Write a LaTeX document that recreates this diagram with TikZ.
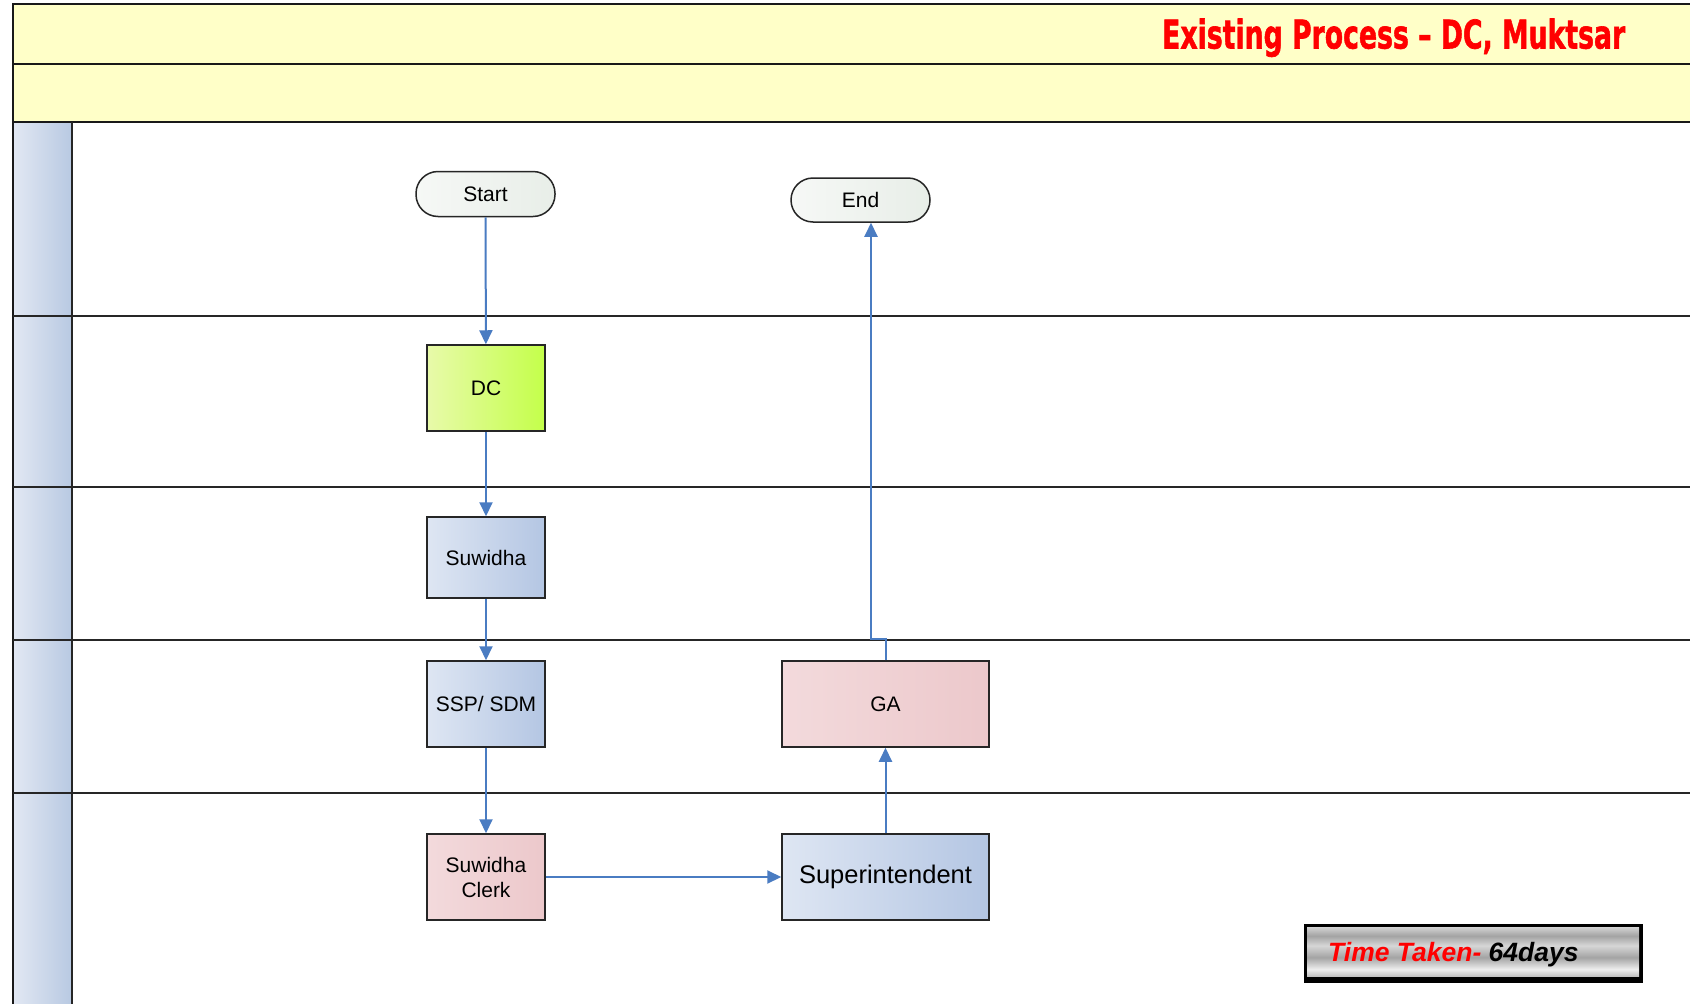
\documentclass[tikz,border=0pt]{standalone}
\usepackage{fontspec}
\setmainfont{Liberation Sans}
\newfontfamily\titlefont{DejaVu Sans}[BoldFeatures={FakeBold=1.6}]
\usetikzlibrary{arrows.meta}

\definecolor{bandyellow}{RGB}{255,255,200}
\definecolor{stripL}{RGB}{226,232,243}
\definecolor{stripR}{RGB}{184,201,226}
\definecolor{flowblue}{RGB}{74,124,194}
\definecolor{blueL}{RGB}{222,230,243}
\definecolor{blueR}{RGB}{180,198,227}
\definecolor{pinkL}{RGB}{243,218,220}
\definecolor{pinkR}{RGB}{236,200,203}
\definecolor{limeL}{RGB}{232,250,170}
\definecolor{limeR}{RGB}{196,255,74}
\definecolor{termL}{RGB}{246,248,246}
\definecolor{termR}{RGB}{232,238,232}
\definecolor{titlered}{RGB}{255,0,0}
\definecolor{mA}{gray}{0.64}
\definecolor{mB}{gray}{0.84}
\definecolor{mC}{gray}{0.93}

% brushed metal stripes for the time box
\pgfdeclareverticalshading{brushed}{100bp}{%
  color(0bp)=(mA); color(10bp)=(mB); color(20bp)=(mA); color(32bp)=(mC);
  color(44bp)=(mA); color(56bp)=(mB); color(66bp)=(mA); color(80bp)=(mC);
  color(90bp)=(mA); color(100bp)=(mB)}

\tikzset{
  frameline/.style={line width=2pt, black!90},
  laneline/.style={line width=1.6pt, black!85},
  proc/.style={draw=black!85, line width=1.5pt, shading angle=0,
    font=\fontsize{21}{25}\selectfont, align=center, inner sep=0pt},
  bluebox/.style={proc, left color=blueL, right color=blueR},
  pinkbox/.style={proc, left color=pinkL, right color=pinkR},
  limebox/.style={proc, left color=limeL, right color=limeR},
  terminal/.style={draw=black!85, line width=1.5pt, rounded corners=22pt,
    left color=termL, right color=termR, font=\fontsize{21}{25}\selectfont,
    inner sep=0pt},
  flow/.style={draw=flowblue, line width=2pt,
    -{Triangle[length=14pt,width=13pt]}},
}

\begin{document}
\begin{tikzpicture}[x=1pt, y=-1pt]
\useasboundingbox (0,0) rectangle (1690,1004);
\fill[white] (0,0) rectangle (1690,1004);

% header bands
\fill[bandyellow] (13,4) rectangle (1690,122);

% lane header strips
\shade[left color=stripL, right color=stripR] (13,122) rectangle (72,1004);

% frame and lane lines
\draw[frameline] (1690,4) -- (13,4) -- (13,1004);
\draw[frameline] (13,63.5) -- (1690,63.5);
\draw[frameline] (13,122) -- (1690,122);
\draw[laneline] (72,122) -- (72,1004);
\foreach \yy in {316,487,640,793}
  \draw[laneline] (13,\yy) -- (1690,\yy);

% title
\node[anchor=base west, inner sep=0pt, text=titlered] (title) at (1162,48.5)
  {\resizebox{463pt}{30pt}{\titlefont\bfseries Existing Process – DC, Muktsar}};

% process nodes
\node[terminal, minimum width=139pt, minimum height=45pt] (start) at (485.5,194) {Start};
\node[terminal, minimum width=139pt, minimum height=44pt] (end) at (860.5,200) {End};
\node[limebox, minimum width=118pt, minimum height=86pt] (dc) at (486,388) {DC};
\node[bluebox, minimum width=118pt, minimum height=81pt] (suwidha) at (486,557.5) {Suwidha};
\node[bluebox, minimum width=118pt, minimum height=86pt] (ssp) at (486,704) {SSP/ SDM};
\node[pinkbox, minimum width=118pt, minimum height=86pt] (clerk) at (486,877) {Suwidha\\Clerk};
\node[pinkbox, minimum width=207pt, minimum height=86pt] (ga) at (885.5,704) {GA};
\node[bluebox, minimum width=207pt, minimum height=86pt,
  font=\fontsize{25.5}{30}\selectfont] (super) at (885.5,877) {Superintendent};

% connectors
\coordinate (jogA) at (885.5,639);
\coordinate (jogB) at (871,639);
\draw[flow] (start) -- (dc);
\draw[flow] (dc) -- (suwidha);
\draw[flow] (suwidha) -- (ssp);
\draw[flow] (ssp) -- (clerk);
\draw[flow] (clerk) -- (super);
\draw[flow] (super) -- (ga);
\draw[flow] (ga.north) -- (jogA) -- (jogB) -- (jogB |- end.south);

% elapsed time box
\fill[black] (1304,924) rectangle (1643,983);
\shade[shading=brushed] (1307,927) rectangle (1639,976);
\node[anchor=base west, inner sep=0pt,
  font=\fontsize{26.5}{30}\selectfont\bfseries\itshape] (time) at (1328,961.5)
  {\textcolor{titlered}{Time Taken-} 64days};
\end{tikzpicture}
\end{document}
